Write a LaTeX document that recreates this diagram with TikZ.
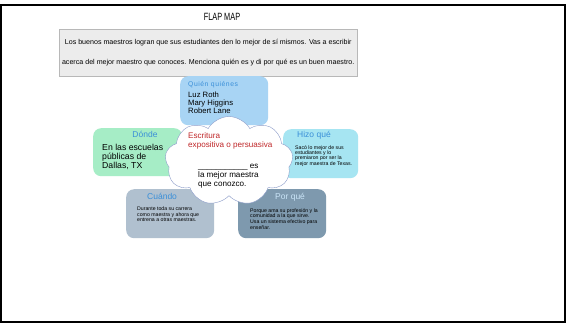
\documentclass[tikz,border=0pt]{standalone}
\usepackage{fontspec}
\setmainfont{Liberation Sans}
\usetikzlibrary{shapes.symbols}
\definecolor{whocolor}{HTML}{A8D4F4}
\definecolor{wherecolor}{HTML}{A6EDC6}
\definecolor{whatcolor}{HTML}{A6E5F2}
\definecolor{whencolor}{HTML}{B0C0CF}
\definecolor{whycolor}{HTML}{7E99AE}
\definecolor{promptcolor}{HTML}{ECECEC}
\definecolor{titlecolor}{HTML}{3A8FD8}
\definecolor{cloudline}{HTML}{8A9AC8}
\definecolor{genrecolor}{HTML}{C0282A}

\tikzset{
  flap/.style={rounded corners=8pt, anchor=north west, inner sep=0pt},
  flaptitle/.style={anchor=west, inner sep=0pt, text=titlecolor, font=\fontsize{8.5}{9}\selectfont},
  flaptext/.style={anchor=north west, inner sep=0pt, align=left, font=\fontsize{8}{9}\selectfont},
  tinytext/.style={anchor=north west, inner sep=0pt, align=left, font=\fontsize{5.2}{5.4}\selectfont},
}

\begin{document}
\begin{tikzpicture}[x=1pt, y=-1pt]
        \useasboundingbox[fill=white] (0,0) rectangle (567,325);
        \draw[line width=2pt] (1,5) rectangle (565,322); % page frame

        % Heading and prompt {{{
        \node[inner sep=0pt, font=\fontsize{10.5}{11}\selectfont] (heading) at (222,17) {\scalebox{0.7}[1]{FLAP MAP}};
        \node[anchor=north west, draw=black!28, fill=promptcolor, minimum width=298pt, minimum height=47pt, inner sep=0pt] (prompt) at (59,29) {};
        \node[align=center, inner sep=0pt, font=\fontsize{7.1}{20}\selectfont] (prompttext) at (prompt.center) {%
                Los buenos maestros logran que sus estudiantes den lo mejor de sí mismos. Vas a escribir\\
                acerca del mejor maestro que conoces. Menciona quién es y di por qué es un buen maestro.};
        % }}}

        % Flaps {{{
        \node[flap, fill=whocolor, minimum width=88pt, minimum height=49pt] (who) at (180,76) {};
        \node[flaptitle, font=\fontsize{6.8}{7}\addfontfeature{LetterSpace=8}\selectfont] (whotitle) at (188,85) {Quién quiénes};
        \node[flaptext, font=\fontsize{7.7}{8.2}\selectfont] (whotext) at (188,91.5) {Luz Roth\\Mary Higgins\\Robert Lane};

        \node[flap, fill=wherecolor, minimum width=89pt, minimum height=48pt] (where) at (93,128) {};
        \node[flaptitle, anchor=center] (wheretitle) at (145,134) {Dónde};
        \node[flaptext, font=\fontsize{8.7}{9.2}\selectfont] (wheretext) at (102,143.5) {En las escuelas\\públicas de\\Dallas, TX};

        \node[flap, fill=whatcolor, minimum width=75pt, minimum height=49pt] (what) at (283,129) {};
        \node[flaptitle] (whattitle) at (297,135) {Hizo qué};
        \node[tinytext] (whattext) at (295,145) {Sacó lo mejor de sus\\estudiantes y lo\\premiaron por ser la\\mejor maestra de Texas.};

        \node[flap, fill=whencolor, minimum width=88pt, minimum height=49pt] (when) at (126,189) {};
        \node[flaptitle] (whentitle) at (147,196) {Cuándo};
        \node[tinytext] (whentext) at (137,207) {Durante toda su carrera\\como maestra y ahora que\\entrena a otras maestras.};

        \node[flap, fill=whycolor, minimum width=88pt, minimum height=49pt] (why) at (238,189) {};
        \node[flaptitle, text=whocolor!60!white] (whytitle) at (275,197) {Por qué};
        \node[tinytext, font=\fontsize{5.2}{5.8}\selectfont] (whytext) at (250,208) {Porque ama su profesión y la\\comunidad a la que sirve.\\Usa un sistema efectivo para\\enseñar.};
        % }}}

        % Cloud {{{
        \node[cloud, cloud puffs=9, cloud puff arc=120, aspect=1.4, draw=cloudline, fill=white, minimum width=128pt, minimum height=89pt, inner sep=0pt] (topic) at (229,161) {};
        \node[flaptext, text=genrecolor, font=\fontsize{8.1}{9}\selectfont] (genre) at (188,132) {Escritura\\expositiva o persuasiva};
        \node[flaptext, font=\fontsize{8.1}{9}\selectfont] (sentence) at (198,164) {\_\_\_\_\_\_\_\_\_\_\_ es\\la mejor maestra\\que conozco.};
        % }}}
\end{tikzpicture}
\end{document}
